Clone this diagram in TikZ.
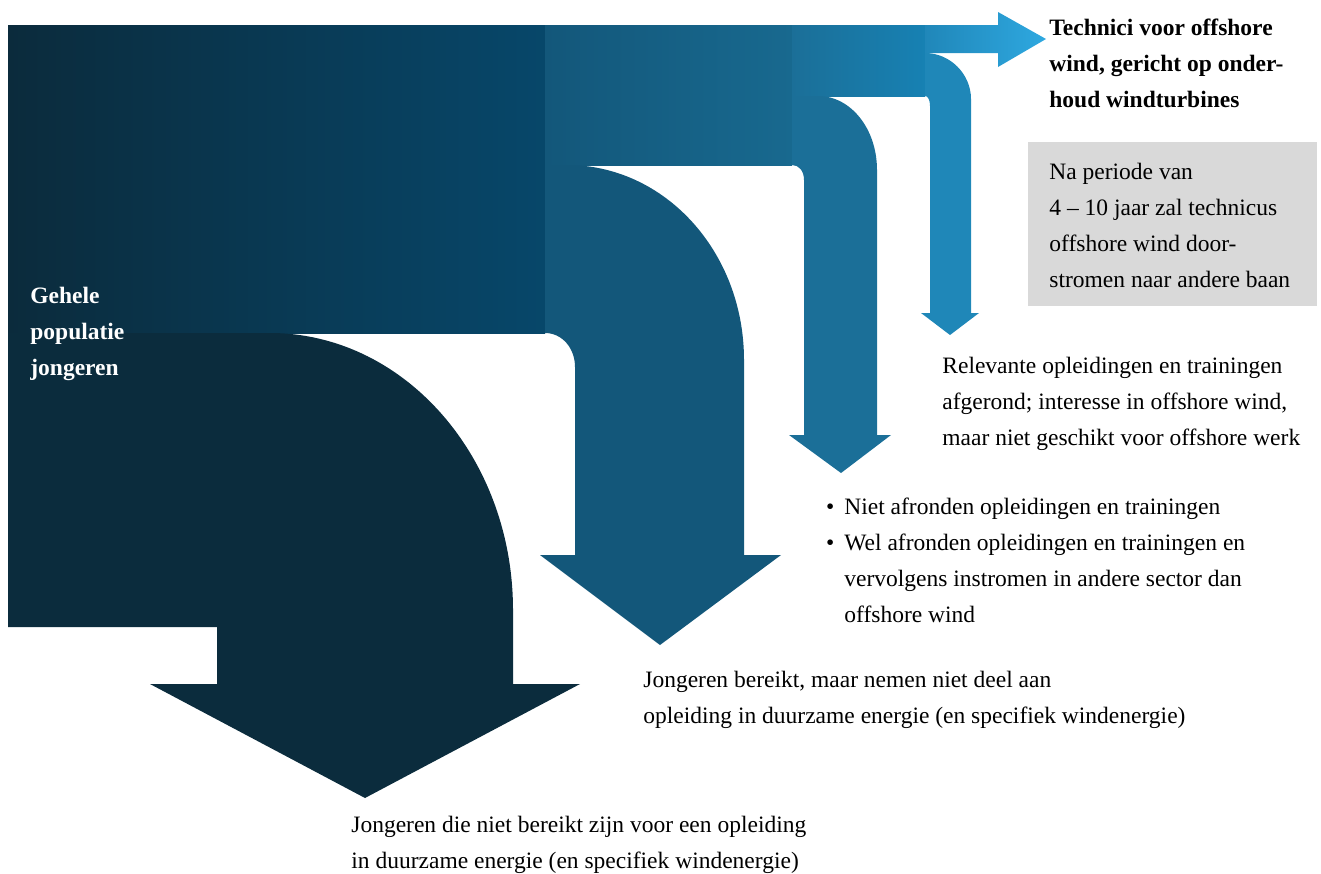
\documentclass[tikz,border=0pt]{standalone}
\usepackage{fontspec}
\setmainfont{Liberation Serif}
\usetikzlibrary{positioning}
\definecolor{navy}{HTML}{0B2C3D}
\definecolor{bandL}{HTML}{0B2B3C}
\definecolor{bandR}{HTML}{07476A}
\definecolor{teal}{HTML}{13577A}
\definecolor{tealR}{HTML}{18698F}
\definecolor{ocean}{HTML}{1B6F98}
\definecolor{oceanR}{HTML}{1781B3}
\definecolor{sky}{HTML}{1F87B8}
\definecolor{skyL}{HTML}{2087B9}
\definecolor{skyR}{HTML}{2EA8E0}
\definecolor{boxgrey}{HTML}{D9D9D9}

\begin{document}
\begin{tikzpicture}[
    x=0.5pt, y=-0.5pt,
    txt/.style={anchor=base west, inner sep=0pt, align=left, font=\fontsize{11.75}{18}\selectfont},
    boldtxt/.style={txt, font=\fontsize{11.75}{18}\selectfont\bfseries},
    greybox/.style={fill=boxgrey, draw=none, anchor=north west, inner sep=0pt,
        minimum width=144.5pt, minimum height=82pt}
]
\useasboundingbox (0,0) rectangle (1321,873);

% horizontal bands
\shade[left color=bandL, right color=bandR] (8,25) rectangle (545,333);
\shade[left color=teal, right color=tealR] (545,25) rectangle (792,165);
\shade[left color=ocean, right color=oceanR] (792,25) rectangle (925,96);
\shade[left color=skyL, right color=skyR] (925,25) -- (998,25) -- (998,12) -- (1046,39)
    -- (998,67) -- (998,53) -- (925,53) -- cycle;

% bent arrows
\fill[navy] (8,333) -- (270,333) .. controls (404,333) and (513,457) .. (513,610)
    -- (513,684) -- (580,684) -- (365,798) -- (150,684) -- (217,684) -- (217,627)
    -- (8,627) -- cycle;
\fill[teal] (545,165) -- (567,165) .. controls (665,165) and (744,252) .. (744,360)
    -- (744,555) -- (781,555) -- (660,645) -- (540,555) -- (575,555) -- (575,367)
    .. controls (575,348) and (562,333) .. (545,333) -- cycle;
\fill[ocean] (792,96) -- (818,96) .. controls (851,96) and (877,129) .. (877,170)
    -- (877,435) -- (891,435) -- (841,473) -- (789,435) -- (804,435) -- (804,180)
    .. controls (804,171) and (799,165) .. (792,165) -- cycle;
\fill[sky] (925,53) .. controls (950,53) and (971,74) .. (971,99)
    -- (971,313) -- (979,313) -- (950,335) -- (921,313) -- (930,313) -- (930,106)
    .. controls (930,100) and (928,96) .. (925,96) -- cycle;

% labels (base = last line)
\node[boldtxt, text=white] (population) at (30,375) {Gehele\\populatie\\jongeren};
\node[boldtxt] (title) at (1049,107) {Technici voor offshore\\wind, gericht op onder-\\houd windturbines};
\node[greybox] (box) at (1028,142) {};
\node[txt] (delay) at (1049,287) {Na periode van\\4 -- 10 jaar zal technicus\\offshore wind door-\\stromen naar andere baan};
\node[txt] (relevant) at (942,445) {Relevante opleidingen en trainingen\\afgerond; interesse in offshore wind,\\maar niet geschikt voor offshore werk};
\node[txt] (dropout) at (844,622) {\llap{•\hspace{5pt}}Niet afronden opleidingen en trainingen\\\llap{•\hspace{5pt}}Wel afronden opleidingen en trainingen en\\vervolgens instromen in andere sector dan\\offshore wind};
\node[txt] (reached) at (643,723) {Jongeren bereikt, maar nemen niet deel aan\\opleiding in duurzame energie (en specifiek windenergie)};
\node[txt] (unreached) at (351,868) {Jongeren die niet bereikt zijn voor een opleiding\\in duurzame energie (en specifiek windenergie)};
\end{tikzpicture}
\end{document}
